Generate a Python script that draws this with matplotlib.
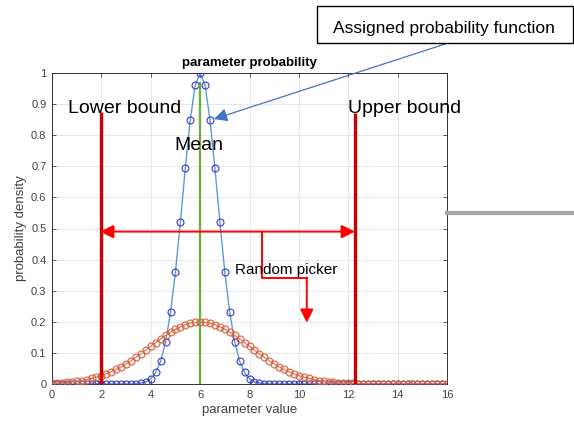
import numpy as np
import matplotlib
matplotlib.use("Agg")
import matplotlib.pyplot as plt
from matplotlib.patches import Rectangle
from matplotlib.lines import Line2D

plt.rcParams['font.family'] = ['Liberation Sans', 'DejaVu Sans']

# parameter grid (step 0.2 from 0 to 16)
param_x = np.round(np.arange(0, 16.01, 0.2), 1)

# assigned probability function (narrow, peak 1 at mean)
assigned_prob = ([0.0] * 17 +
                 [0.001, 0.003, 0.007, 0.017, 0.037, 0.073, 0.135, 0.230,
                  0.360, 0.521, 0.693, 0.849, 0.960, 1.0,
                  0.960, 0.849, 0.693, 0.521, 0.360, 0.230, 0.135, 0.073,
                  0.037, 0.017, 0.007, 0.003, 0.001] +
                 [0.0] * 37)

# wide probability density
wide_prob = [0.002, 0.003, 0.004, 0.005, 0.007, 0.009, 0.011, 0.014, 0.018,
             0.022, 0.027, 0.033, 0.039, 0.047, 0.055, 0.065, 0.075, 0.086,
             0.097, 0.109, 0.121, 0.133, 0.145, 0.156, 0.167, 0.176, 0.184,
             0.191, 0.196, 0.198, 0.199,
             0.198, 0.196, 0.191, 0.184, 0.176, 0.167, 0.156, 0.145, 0.133,
             0.121, 0.109, 0.097, 0.086, 0.075, 0.065, 0.055, 0.047, 0.039,
             0.033, 0.027, 0.022, 0.018, 0.014, 0.011, 0.009, 0.007, 0.005,
             0.004, 0.003, 0.002,
             0.002, 0.001, 0.001, 0.001, 0.0] + [0.0] * 15

lower_bound = 2.0
upper_bound = 12.27
mean_val = 6.0

fig = plt.figure(figsize=(5.74, 4.26), dpi=100)
ax = fig.add_axes([52 / 574, 1 - 384 / 426, 395 / 574, 311 / 426])

ax.plot(param_x, assigned_prob, color='#5b9bd5', lw=1, zorder=2)
ax.plot(param_x, assigned_prob, 'o', mfc='none', mec='#3a3ac8', ms=5,
        mew=0.8, zorder=3)
ax.plot(param_x, wide_prob, color='#e07050', lw=0.8, marker='o',
        mfc='none', mec='#d9603a', ms=5, mew=0.8, zorder=4)

# bounds and mean
ax.plot([lower_bound, lower_bound], [0, 0.875], color='#cc0000', lw=2.4,
        zorder=5, solid_capstyle='butt')
ax.plot([upper_bound, upper_bound], [0, 0.87], color='#cc0000', lw=2.4,
        zorder=5, solid_capstyle='butt')
ax.plot([mean_val, mean_val], [0, 0.97], color='#70ad47', lw=1.7,
        zorder=5, solid_capstyle='butt')

# random picker arrows
ax.annotate('', xy=(1.95, 0.49), xytext=(upper_bound, 0.49),
            arrowprops=dict(arrowstyle='<|-|>', color='red', lw=1.4,
                            mutation_scale=20, shrinkA=0, shrinkB=0),
            zorder=6)
ax.plot([8.51, 8.51, 10.32], [0.49, 0.342, 0.342], color='red', lw=1.4,
        zorder=6)
ax.annotate('', xy=(10.32, 0.197), xytext=(10.32, 0.342),
            arrowprops=dict(arrowstyle='-|>', color='red', lw=1.4,
                            mutation_scale=20, shrinkA=0, shrinkB=0),
            zorder=6)

ax.text(0.65, 0.870, 'Lower bound', fontsize=14, va='baseline', zorder=7)
ax.text(11.98, 0.872, 'Upper bound', fontsize=14, va='baseline', zorder=7,
        clip_on=False)
ax.text(4.94, 0.752, 'Mean', fontsize=14, va='baseline', zorder=7)
ax.text(7.41, 0.354, 'Random picker', fontsize=11, va='baseline', zorder=7)

ax.set_xlim(0, 16)
ax.set_ylim(0, 1)
ax.set_xticks(np.arange(0, 17, 2))
ax.set_yticks(np.round(np.arange(0, 1.01, 0.1), 1))
ax.set_yticklabels(['0', '0.1', '0.2', '0.3', '0.4', '0.5', '0.6', '0.7',
                    '0.8', '0.9', '1'])
ax.tick_params(direction='in', length=3, width=0.6, top=True, right=True,
               labelsize=8, labelcolor='#404040', colors='#404040', pad=4)
ax.grid(True, color='#e3e3e3', lw=0.6)
ax.set_axisbelow(True)
for s in ax.spines.values():
    s.set_color('#303030')
    s.set_linewidth(0.7)

ax.set_title('parameter probability', fontsize=9.5, fontweight='bold', pad=5)
ax.set_xlabel('parameter value', fontsize=9.5, color='#404040', labelpad=3)
ax.set_ylabel('probability density', fontsize=9.5, color='#404040',
              labelpad=3)

# callout box with arrow
fig.patches.append(Rectangle((317 / 574, 1 - 43 / 426), 256 / 574, 37 / 426,
                             transform=fig.transFigure, fill=False,
                             edgecolor='black', lw=1))
fig.text(333 / 574, 1 - 32.7 / 426, 'Assigned probability function',
         fontsize=12.5, va='baseline')
ax.annotate('', xy=(6.56, 0.852), xycoords='data',
            xytext=(446.7, 426 - 43.5), textcoords='figure pixels',
            arrowprops=dict(arrowstyle='-|>', color='#4472c4', lw=0.9,
                            mutation_scale=20, shrinkA=0, shrinkB=0),
            annotation_clip=False, zorder=8)

# gray line to the right
fig.lines.append(Line2D([447 / 574, 1.0], [1 - 213 / 426, 1 - 213 / 426],
                        transform=fig.transFigure, color='#a6a6a6', lw=3))

fig.savefig('out.png', dpi=100)
